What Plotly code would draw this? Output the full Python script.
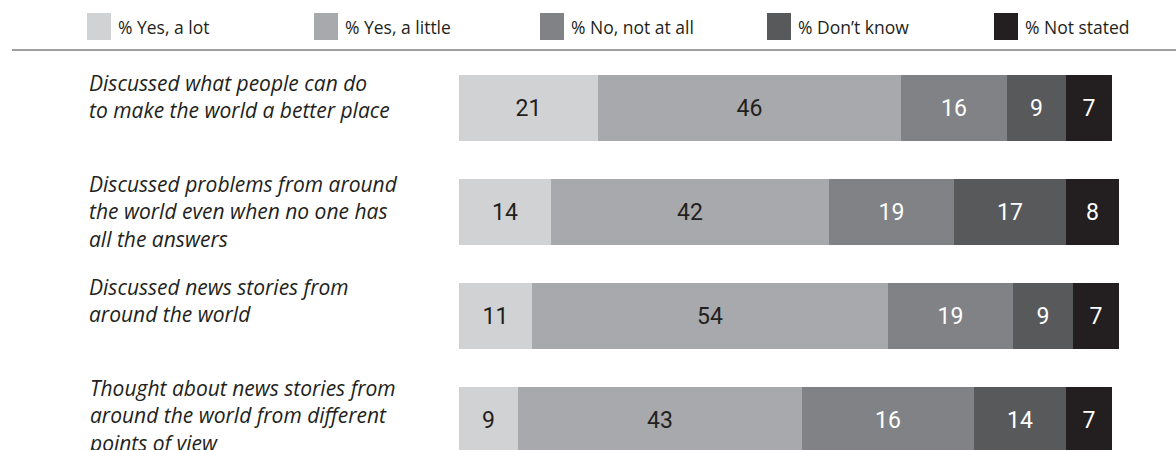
import plotly.graph_objects as go

# ---------------- data ----------------
categories = [
    "Discussed what people can do<br>to make the world a better place",
    "Discussed problems from around<br>the world even when no one has<br>all the answers",
    "Discussed news stories from<br>around the world",
    "Thought about news stories from<br>around the world from different<br>points of view",
]
series_names = ["% Yes, a lot", "% Yes, a little", "% No, not at all", "% Don\u2019t know", "% Not stated"]

yes_a_lot = [21, 14, 11, 9]
yes_a_little = [46, 42, 54, 43]
# drawn widths (last bar's segment is drawn ~26 wide but labelled 16)
no_not_at_all = [16, 19, 19, 26]
no_not_at_all_labels = ["16", "19", "19", "16"]
dont_know = [9, 17, 9, 14]
not_stated = [7, 8, 7, 7]

series_values = [yes_a_lot, yes_a_little, no_not_at_all, dont_know, not_stated]
series_labels = [
    [str(v) for v in yes_a_lot],
    [str(v) for v in yes_a_little],
    no_not_at_all_labels,
    [str(v) for v in dont_know],
    [str(v) for v in not_stated],
]

# ---------------- style ----------------
colors = ["#d1d2d4", "#a7a9ac", "#808285", "#58595b", "#231f20"]
text_colors = ["#231f20", "#231f20", "#ffffff", "#ffffff", "#ffffff"]
W, H = 1176, 450
rows = list(range(len(categories)))

fig = go.Figure()
for name, vals, labs, col, tcol in zip(series_names, series_values, series_labels, colors, text_colors):
    fig.add_trace(go.Bar(
        y=rows, x=vals, orientation="h", name=name,
        marker=dict(color=col, line=dict(width=0)),
        width=0.635,
        text=labs, textposition="inside", insidetextanchor="middle", textangle=0,
        textfont=dict(family="Liberation Sans Narrow, Roboto, Lato, sans-serif", size=23, color=tcol),
        showlegend=False, hoverinfo="skip",
    ))

# row labels (blocks step 102 px, first line centred at y=84 px, lines ~25 px apart)
for i, cat in enumerate(categories):
    n = len(cat.split("<br>"))
    mid_px = 84 + 102 * i + 25 * (n - 1) / 2
    fig.add_annotation(
        x=87 / W, xref="paper", xanchor="left",
        y=1 - mid_px / H, yref="paper", yanchor="middle",
        text=cat, showarrow=False, align="left",
        font=dict(family="Open Sans, sans-serif", size=21, color="#231f20", style="italic"),
    )

# custom legend
legend_swatch_x = [87, 314, 540, 767, 994]
for name, col, sx in zip(series_names, colors, legend_swatch_x):
    fig.add_shape(type="rect", xref="paper", yref="paper",
                  x0=sx / W, x1=(sx + 24) / W, y0=1 - 40 / H, y1=1 - 13 / H,
                  fillcolor=col, line=dict(width=0))
    fig.add_annotation(x=(sx + 29) / W, xref="paper", xanchor="left",
                       y=1 - 27 / H, yref="paper", yanchor="middle",
                       text=name, showarrow=False,
                       font=dict(family="Open Sans, sans-serif", size=17.5, color="#231f20"))

fig.add_shape(type="line", xref="paper", yref="paper",
              x0=12 / W, x1=1, y0=1 - 50 / H, y1=1 - 50 / H,
              line=dict(color="#7f7f7f", width=1.5))

px_per_unit = 6.6
x0_px = 459
fig.update_layout(
    width=W, height=H,
    margin=dict(l=0, r=0, t=0, b=0),
    paper_bgcolor="white", plot_bgcolor="white",
    barmode="stack", bargap=0,
    xaxis=dict(range=[-x0_px / px_per_unit, (W - x0_px) / px_per_unit],
               visible=False, fixedrange=True),
    yaxis=dict(range=[(H - 108) / 104, -108 / 104], visible=False, fixedrange=True),
    uniformtext=dict(mode=False),
)

fig.write_html("out.html")
